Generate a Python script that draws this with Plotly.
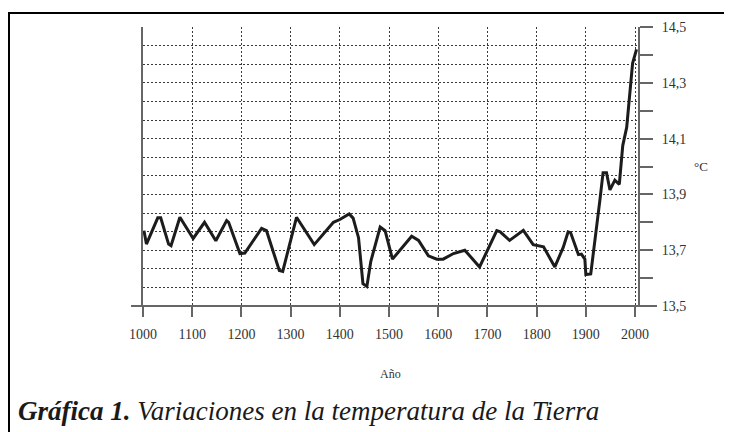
import plotly.graph_objects as go

# ---- data ----
years = [1002, 1007, 1030, 1036, 1052, 1057, 1075, 1102, 1125, 1148, 1170, 1174,
         1197, 1207, 1241, 1251, 1277, 1284, 1312, 1348, 1387, 1400, 1419, 1427,
         1438, 1447, 1455, 1463, 1482, 1492, 1507, 1546, 1560, 1580, 1597, 1610,
         1631, 1654, 1684, 1719, 1726, 1745, 1773, 1793, 1814, 1837, 1854, 1864,
         1869, 1885, 1891, 1898, 1900, 1910, 1929, 1935, 1942, 1949, 1959, 1968,
         1975, 1983, 1995, 2003]
temps = [13.770, 13.722, 13.816, 13.816, 13.722, 13.716, 13.818, 13.742, 13.800, 13.734, 13.806, 13.800,
         13.688, 13.690, 13.778, 13.770, 13.627, 13.624, 13.818, 13.720, 13.800, 13.810, 13.830, 13.815,
         13.745, 13.580, 13.570, 13.660, 13.783, 13.770, 13.668, 13.750, 13.735, 13.680, 13.668, 13.668,
         13.688, 13.700, 13.640, 13.770, 13.766, 13.735, 13.771, 13.720, 13.712, 13.640, 13.710, 13.766,
         13.763, 13.684, 13.686, 13.668, 13.613, 13.615, 13.886, 13.978, 13.978, 13.916, 13.951, 13.936,
         14.075, 14.140, 14.370, 14.420]

x_ticks = [1000, 1100, 1200, 1300, 1400, 1500, 1600, 1700, 1800, 1900, 2000]
y_ticks = [13.5, 13.6, 13.7, 13.8, 13.9, 14.0, 14.1, 14.2, 14.3, 14.4, 14.5]
y_tick_text = ["13,5", "", "13,7", "", "13,9", "", "14,1", "", "14,3", "", "14,5"]
x_title = "Año"
y_unit = "°C"
caption_bold = "Gráfica 1."
caption_rest = "Variaciones en la temperatura de la Tierra"

# ---- layout geometry (pixels); page body adds an 8px offset ----
OFF = 8
W, H = 732 - OFF, 432 - OFF
L, T = 143 - OFF, 23 - OFF
R, B = 94, 126
PW, PH = W - L - R, H - T - B


def px(x):  # screen pixel x -> paper coordinate
    return (x - OFF - L) / PW


def py(y):  # screen pixel y -> paper coordinate
    return (H - B - (y - OFF)) / PH


SERIF = "Liberation Serif, Times New Roman, serif"
GRID_COLOR = "#3a3a3a"
AXIS_COLOR = "#666666"

grid_y = [13.5 + i / 15 for i in range(1, 16)]

fig = go.Figure()
fig.add_trace(go.Scatter(
    x=years, y=temps, mode="lines",
    line=dict(color="#1c1c1c", width=3),
    hoverinfo="skip", showlegend=False,
))
# invisible trace to carry the dotted horizontal grid axis
fig.add_trace(go.Scatter(x=[years[0]], y=[temps[0]], yaxis="y2", mode="markers",
                         marker=dict(opacity=0), showlegend=False, hoverinfo="skip"))

fig.update_layout(
    width=W, height=H,
    margin=dict(l=L, r=R, t=T, b=B),
    paper_bgcolor="white", plot_bgcolor="white",
    font=dict(family=SERIF, color="#333333", size=14),
    xaxis=dict(
        range=[1000, 2006], tickvals=x_ticks, ticktext=[str(v) for v in x_ticks],
        showgrid=True, gridcolor=GRID_COLOR, gridwidth=1.2, griddash="2px,2px",
        zeroline=False, showline=False,
        ticks="outside", ticklen=10, tickwidth=1.5, tickcolor=AXIS_COLOR,
        ticklabelstandoff=5,
        tickfont=dict(family=SERIF, size=14, color="#333333"),
        fixedrange=True,
    ),
    yaxis=dict(
        range=[13.5, 14.5], side="right",
        tickvals=y_ticks, ticktext=y_tick_text,
        showgrid=False, zeroline=False,
        showline=True, linecolor=AXIS_COLOR, linewidth=2, mirror=True,
        ticks="outside", ticklen=13, tickwidth=1.5, tickcolor=AXIS_COLOR,
        ticklabelstandoff=6,
        tickfont=dict(family=SERIF, size=14, color="#333333"),
        fixedrange=True,
    ),
    yaxis2=dict(
        range=[13.5, 14.5], overlaying="y", side="left",
        tickvals=grid_y, showticklabels=False, ticks="",
        showgrid=True, gridcolor=GRID_COLOR, gridwidth=1.2, griddash="2px,2px",
        zeroline=False, showline=False, fixedrange=True,
    ),
    shapes=[
        # extended bottom axis line
        dict(type="line", xref="paper", yref="paper",
             x0=px(131), x1=px(657), y0=0, y1=0,
             line=dict(color=AXIS_COLOR, width=2), layer="above"),
        # outer frame (left and top sides visible)
        dict(type="line", xref="paper", yref="paper",
             x0=px(9), x1=px(9), y0=py(8), y1=py(440),
             line=dict(color="black", width=2)),
        dict(type="line", xref="paper", yref="paper",
             x0=px(8), x1=px(740), y0=py(8.8), y1=py(8.8),
             line=dict(color="black", width=2)),
    ],
    annotations=[
        dict(text=y_unit, xref="paper", yref="paper", x=px(710), y=py(165),
             showarrow=False, font=dict(family=SERIF, size=13, color="#333333")),
        dict(text=x_title, xref="paper", yref="paper", x=px(390), y=py(384),
             showarrow=False, font=dict(family=SERIF, size=12, color="#333333")),
        dict(text="<b><i>" + caption_bold + "</i></b><i> " + caption_rest + "</i>",
             xref="paper", yref="paper", x=px(16), y=py(413),
             xanchor="left", yanchor="middle", showarrow=False,
             font=dict(family=SERIF, size=27, color="#1a1a1a")),
    ],
)

fig.write_html("out.html")
